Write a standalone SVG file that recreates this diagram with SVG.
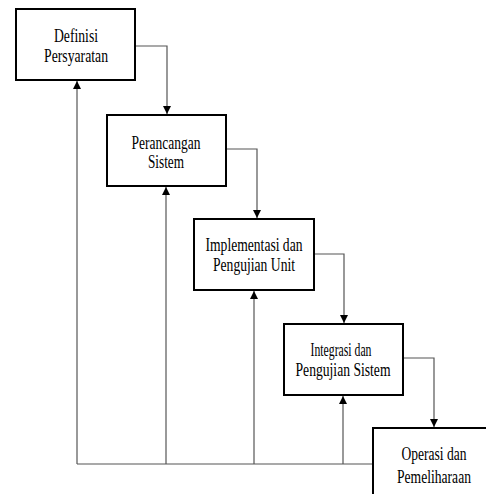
<svg xmlns="http://www.w3.org/2000/svg" width="486" height="494" viewBox="0 0 486 494">
  <defs>
    <marker id="arrow" viewBox="0 0 10 10" refX="10" refY="5" markerWidth="10" markerHeight="8" markerUnits="userSpaceOnUse" orient="auto">
      <path d="M0,0 L10,5 L0,10 Z" fill="#000"/>
    </marker>
    <style>
      .box { fill: #fff; stroke: #000; stroke-width: 2; }
      .lbl { font-family: 'Liberation Serif', 'Times New Roman', Times, serif; font-size: 18px; fill: #000; text-anchor: middle; }
      .conn { fill: none; stroke: #555; stroke-width: 1.2; }
    </style>
  </defs>
  <rect width="486" height="494" fill="#fff"/>

  <!-- connectors -->
  <g id="connectors">
    <path class="conn" d="M135,46 H167 V114" marker-end="url(#arrow)"/>
    <path class="conn" d="M226,149 H257 V218" marker-end="url(#arrow)"/>
    <path class="conn" d="M314,254 H344 V323" marker-end="url(#arrow)"/>
    <path class="conn" d="M403,358 H434 V427" marker-end="url(#arrow)"/>
    <!-- feedback paths -->
    <path class="conn" d="M373,464 H77"/>
    <path class="conn" d="M77,464 V81" marker-end="url(#arrow)"/>
    <path class="conn" d="M166,464 V187" marker-end="url(#arrow)"/>
    <path class="conn" d="M254,464 V291" marker-end="url(#arrow)"/>
    <path class="conn" d="M343,464 V396" marker-end="url(#arrow)"/>
  </g>

  <g id="definisi">
    <rect class="box" x="16" y="9" width="119" height="71"/>
    <text class="lbl" x="76" y="42" textLength="44" lengthAdjust="spacingAndGlyphs">Definisi</text>
    <text class="lbl" x="76" y="62" textLength="64" lengthAdjust="spacingAndGlyphs">Persyaratan</text>
  </g>
  <g id="perancangan">
    <rect class="box" x="107" y="115" width="119" height="71"/>
    <text class="lbl" x="166" y="149" textLength="69" lengthAdjust="spacingAndGlyphs">Perancangan</text>
    <text class="lbl" x="166" y="168" textLength="36" lengthAdjust="spacingAndGlyphs">Sistem</text>
  </g>
  <g id="implementasi">
    <rect class="box" x="194" y="219" width="120" height="71"/>
    <text class="lbl" x="254" y="251" textLength="97" lengthAdjust="spacingAndGlyphs">Implementasi dan</text>
    <text class="lbl" x="254" y="271" textLength="82" lengthAdjust="spacingAndGlyphs">Pengujian Unit</text>
  </g>
  <g id="integrasi">
    <rect class="box" x="284" y="324" width="119" height="71"/>
    <text class="lbl" x="341" y="356" textLength="61" lengthAdjust="spacingAndGlyphs">Integrasi dan</text>
    <text class="lbl" x="343" y="376" textLength="95" lengthAdjust="spacingAndGlyphs">Pengujian Sistem</text>
  </g>
  <g id="operasi">
    <rect class="box" x="373" y="428" width="130" height="80"/>
    <text class="lbl" x="434" y="460" textLength="65" lengthAdjust="spacingAndGlyphs">Operasi dan</text>
    <text class="lbl" x="434" y="483" textLength="74" lengthAdjust="spacingAndGlyphs">Pemeliharaan</text>
  </g>
</svg>
